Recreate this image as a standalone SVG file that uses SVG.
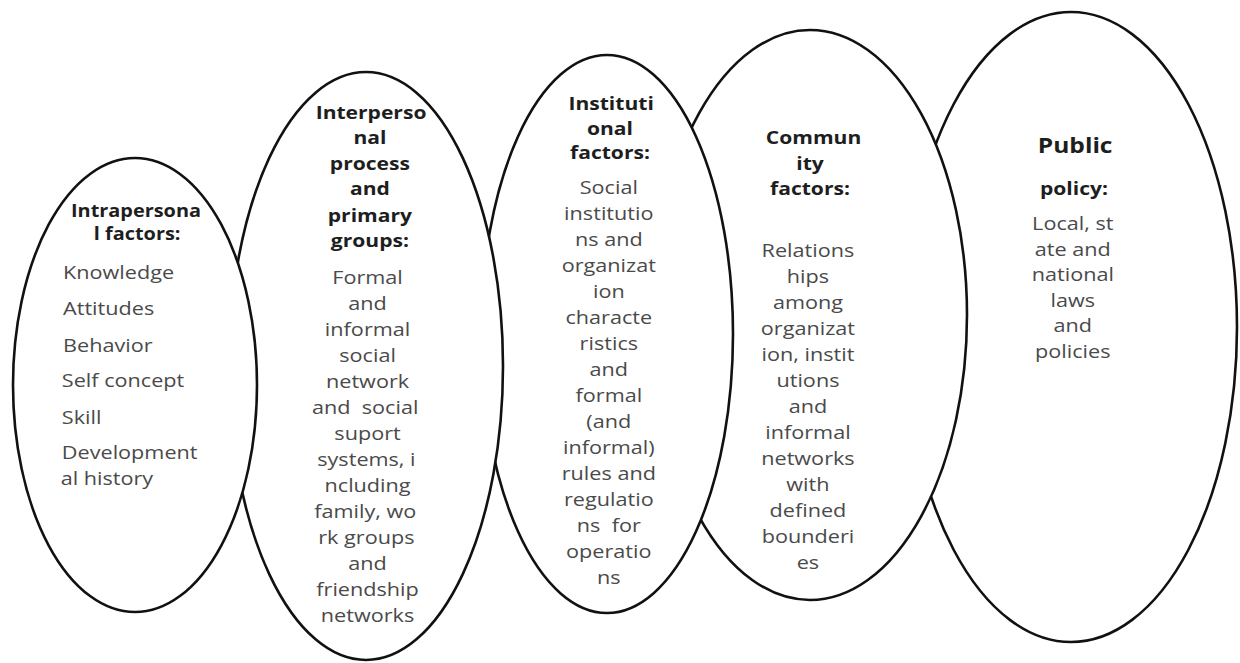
<svg xmlns="http://www.w3.org/2000/svg" width="1240" height="663" viewBox="0 0 1240 663">
<style>
.ell{fill:#ffffff;stroke:#111111;stroke-width:2.6}
.h{font-family:"Open Sans","Liberation Sans",sans-serif;font-weight:700;font-size:18px;fill:#1e1e1e;text-anchor:middle;white-space:pre}
.t{font-family:"Open Sans","Liberation Sans",sans-serif;font-size:18.5px;fill:#4a4a4a;text-anchor:middle;white-space:pre}
.tl{font-family:"Open Sans","Liberation Sans",sans-serif;font-size:18.5px;fill:#4a4a4a;text-anchor:start}
.big{font-size:21px}
.sm{font-size:17px}
</style>
<rect width="1240" height="663" fill="#ffffff"/>
<g id="connectors"/>

<g id="public-policy">
<ellipse class="ell" cx="1071" cy="327" rx="166" ry="315"/>
<g transform="matrix(1.17 0 0 1 -182.6 0)">
<text class="h big" x="1075" y="153">Public</text>
<text class="h" x="1074" y="195">policy:</text>
<text class="t" x="1073" y="230">Local, st</text>
<text class="t" x="1073" y="256">ate and</text>
<text class="t" x="1073" y="281">national</text>
<text class="t" x="1073" y="307">laws</text>
<text class="t" x="1073" y="332">and</text>
<text class="t" x="1073" y="358">policies</text>
</g>
</g>

<g id="community">
<ellipse class="ell" cx="810" cy="315" rx="157" ry="285"/>
<g transform="matrix(1.17 0 0 1 -137.7 0)">
<text class="h" x="813" y="144">Commun</text>
<text class="h" x="810" y="170">ity</text>
<text class="h" x="810" y="195">factors:</text>
</g>
<g transform="matrix(1.17 0 0 1 -137.4 0)">
<text class="t" x="808" y="257">Relations</text>
<text class="t" x="808" y="283">hips</text>
<text class="t" x="808" y="309">among</text>
<text class="t" x="808" y="335">organizat</text>
<text class="t" x="808" y="361">ion, instit</text>
<text class="t" x="808" y="387">utions</text>
<text class="t" x="808" y="413">and</text>
<text class="t" x="808" y="439">informal</text>
<text class="t" x="808" y="465">networks</text>
<text class="t" x="808" y="491">with</text>
<text class="t" x="808" y="517">defined</text>
<text class="t" x="808" y="543">bounderi</text>
<text class="t" x="808" y="569">es</text>
</g>
</g>

<g id="institutional">
<ellipse class="ell" cx="607" cy="334" rx="126" ry="279"/>
<g transform="matrix(1.17 0 0 1 -103.7 0)">
<text class="h" x="611" y="110">Instituti</text>
<text class="h" x="610" y="135">onal</text>
<text class="h" x="610" y="159">factors:</text>
<text class="t" x="609" y="194">Social</text>
<text class="t" x="609" y="220">institutio</text>
<text class="t" x="609" y="246">ns and</text>
<text class="t" x="609" y="272">organizat</text>
<text class="t" x="609" y="298">ion</text>
<text class="t" x="609" y="324">characte</text>
<text class="t" x="609" y="350">ristics</text>
<text class="t" x="609" y="376">and</text>
<text class="t" x="609" y="402">formal</text>
<text class="t" x="609" y="428">(and</text>
<text class="t" x="609" y="454">informal)</text>
<text class="t" x="609" y="480">rules and</text>
<text class="t" x="609" y="506">regulatio</text>
<text class="t" x="609" y="532">ns  for</text>
<text class="t" x="609" y="558">operatio</text>
<text class="t" x="609" y="584">ns</text>
</g>
</g>

<g id="interpersonal">
<ellipse class="ell" cx="366" cy="366" rx="137" ry="294"/>
<g transform="matrix(1.17 0 0 1 -63 0)">
<text class="h" x="371" y="119">Interperso</text>
<text class="h" x="370" y="144">nal</text>
<text class="h" x="370" y="170">process</text>
<text class="h" x="370" y="195">and</text>
<text class="h" x="370" y="222">primary</text>
<text class="h" x="370" y="247">groups:</text>
<text class="t" x="368" y="284">Formal</text>
<text class="t" x="368" y="310">and</text>
<text class="t" x="368" y="336">informal</text>
<text class="t" x="368" y="362">social</text>
<text class="t" x="368" y="388">network</text>
<text class="t" x="366" y="414">and  social</text>
<text class="t" x="368" y="440">suport</text>
<text class="t" x="367" y="466">systems, i</text>
<text class="t" x="368" y="492">ncluding</text>
<text class="t" x="366" y="518">family, wo</text>
<text class="t" x="367" y="544">rk groups</text>
<text class="t" x="368" y="570">and</text>
<text class="t" x="368" y="596">friendship</text>
<text class="t" x="368" y="622">networks</text>
</g>
</g>

<g id="intrapersonal">
<ellipse class="ell" cx="135" cy="385" rx="122" ry="227"/>
<g transform="matrix(1.17 0 0 1 -23.1 0)">
<text class="h sm" x="136" y="217">Intrapersona</text>
<text class="h sm" x="137" y="240">l factors:</text>
</g>
<g transform="matrix(1.17 0 0 1 -10.7 0)">
<text class="tl" x="63" y="279">Knowledge</text>
<text class="tl" x="63" y="315">Attitudes</text>
<text class="tl" x="63" y="352">Behavior</text>
<text class="tl" x="62" y="387">Self concept</text>
<text class="tl" x="62" y="424">Skill</text>
<text class="tl" x="62" y="459">Development</text>
<text class="tl" x="61" y="485">al history</text>
</g>
</g>
</svg>
